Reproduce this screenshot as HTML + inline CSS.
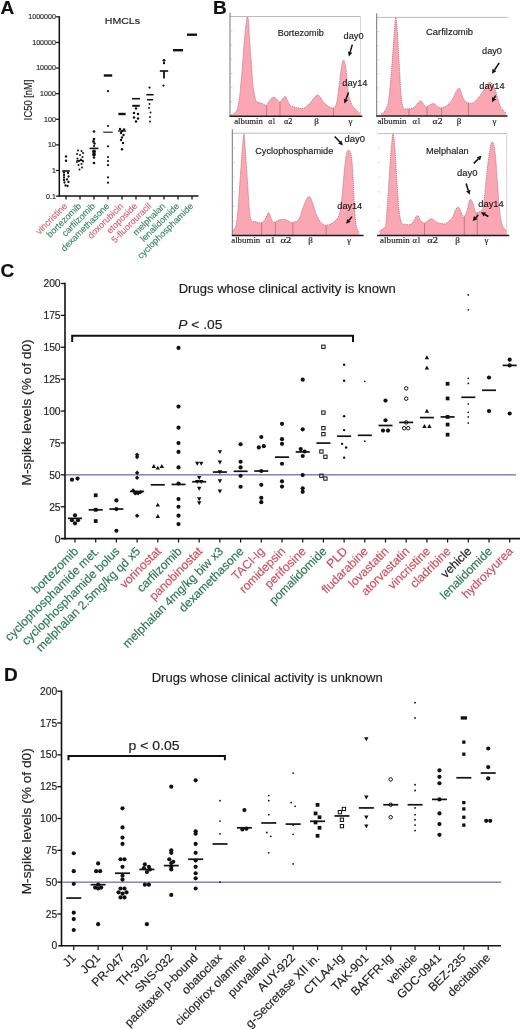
<!DOCTYPE html>
<html><head><meta charset="utf-8"><style>
html,body{margin:0;padding:0;background:#fff;}
svg{display:block;will-change:transform;}
text{font-family:"Liberation Sans", sans-serif;}
text.sf{font-family:'Liberation Serif',serif;}
</style></head><body>
<svg width="520" height="1029" viewBox="0 0 520 1029" font-family='"Liberation Sans", sans-serif'>
<rect width="520" height="1029" fill="#fff"/>
<text x="0.6" y="13.9" font-size="19" font-weight="bold" fill="#111" stroke="#111" stroke-width="0.16">A</text>
<text x="213.1" y="13.9" font-size="19" font-weight="bold" fill="#111" stroke="#111" stroke-width="0.16">B</text>
<text x="0.6" y="277.2" font-size="19" font-weight="bold" fill="#111" stroke="#111" stroke-width="0.16">C</text>
<text x="4.1" y="681.0" font-size="19" font-weight="bold" fill="#111" stroke="#111" stroke-width="0.16">D</text>
<line x1="59.3" y1="16.2" x2="59.3" y2="196.8" stroke="#111" stroke-width="1.5"/>
<line x1="58.599999999999994" y1="196.1" x2="198.5" y2="196.1" stroke="#111" stroke-width="1.5"/>
<line x1="55.8" y1="196.10" x2="59.3" y2="196.10" stroke="#111" stroke-width="1.2"/>
<text x="55.9" y="198.50" font-size="7.1" text-anchor="end" fill="#2a2a2a" stroke="#2a2a2a" stroke-width="0.16">0.1</text>
<line x1="55.8" y1="170.49" x2="59.3" y2="170.49" stroke="#111" stroke-width="1.2"/>
<text x="55.9" y="172.89" font-size="7.1" text-anchor="end" fill="#2a2a2a" stroke="#2a2a2a" stroke-width="0.16">1</text>
<line x1="55.8" y1="144.88" x2="59.3" y2="144.88" stroke="#111" stroke-width="1.2"/>
<text x="55.9" y="147.28" font-size="7.1" text-anchor="end" fill="#2a2a2a" stroke="#2a2a2a" stroke-width="0.16">10</text>
<line x1="55.8" y1="119.27" x2="59.3" y2="119.27" stroke="#111" stroke-width="1.2"/>
<text x="55.9" y="121.67" font-size="7.1" text-anchor="end" fill="#2a2a2a" stroke="#2a2a2a" stroke-width="0.16">100</text>
<line x1="55.8" y1="93.66" x2="59.3" y2="93.66" stroke="#111" stroke-width="1.2"/>
<text x="55.9" y="96.06" font-size="7.1" text-anchor="end" fill="#2a2a2a" stroke="#2a2a2a" stroke-width="0.16">1000</text>
<line x1="55.8" y1="68.05" x2="59.3" y2="68.05" stroke="#111" stroke-width="1.2"/>
<text x="55.9" y="70.45" font-size="7.1" text-anchor="end" fill="#2a2a2a" stroke="#2a2a2a" stroke-width="0.16">10000</text>
<line x1="55.8" y1="42.44" x2="59.3" y2="42.44" stroke="#111" stroke-width="1.2"/>
<text x="55.9" y="44.84" font-size="7.1" text-anchor="end" fill="#2a2a2a" stroke="#2a2a2a" stroke-width="0.16">100000</text>
<line x1="55.8" y1="16.83" x2="59.3" y2="16.83" stroke="#111" stroke-width="1.2"/>
<text x="55.9" y="19.23" font-size="7.1" text-anchor="end" fill="#2a2a2a" stroke="#2a2a2a" stroke-width="0.16">1000000</text>
<text transform="translate(32.1,99.9) rotate(-90)" font-size="10.3" text-anchor="middle" textLength="40.5" lengthAdjust="spacingAndGlyphs" fill="#222" stroke="#222" stroke-width="0.16">IC50 [nM]</text>
<text x="104.8" y="23.7" font-size="8.9" textLength="35.2" lengthAdjust="spacingAndGlyphs" fill="#222" stroke="#222" stroke-width="0.16">HMCLs</text>
<line x1="66" y1="196.1" x2="66" y2="199.6" stroke="#111" stroke-width="1.3"/>
<text transform="translate(67.8,206.6) rotate(-45)" font-size="9" text-anchor="end" fill="#dc6470" stroke="#dc6470" stroke-width="0.16">vincristine</text>
<line x1="80" y1="196.1" x2="80" y2="199.6" stroke="#111" stroke-width="1.3"/>
<text transform="translate(81.8,206.6) rotate(-45)" font-size="9" text-anchor="end" fill="#3c8864" stroke="#3c8864" stroke-width="0.16">bortezomib</text>
<line x1="94" y1="196.1" x2="94" y2="199.6" stroke="#111" stroke-width="1.3"/>
<text transform="translate(95.8,206.6) rotate(-45)" font-size="9" text-anchor="end" fill="#3c8864" stroke="#3c8864" stroke-width="0.16">carfilzomib</text>
<line x1="108" y1="196.1" x2="108" y2="199.6" stroke="#111" stroke-width="1.3"/>
<text transform="translate(109.8,206.6) rotate(-45)" font-size="9" text-anchor="end" fill="#3c8864" stroke="#3c8864" stroke-width="0.16">dexamethasone</text>
<line x1="122" y1="196.1" x2="122" y2="199.6" stroke="#111" stroke-width="1.3"/>
<text transform="translate(123.8,206.6) rotate(-45)" font-size="9" text-anchor="end" fill="#dc6470" stroke="#dc6470" stroke-width="0.16">doxorubicin</text>
<line x1="136" y1="196.1" x2="136" y2="199.6" stroke="#111" stroke-width="1.3"/>
<text transform="translate(137.8,206.6) rotate(-45)" font-size="9" text-anchor="end" fill="#dc6470" stroke="#dc6470" stroke-width="0.16">etoposide</text>
<line x1="150" y1="196.1" x2="150" y2="199.6" stroke="#111" stroke-width="1.3"/>
<text transform="translate(151.8,206.6) rotate(-45)" font-size="9" text-anchor="end" fill="#dc6470" stroke="#dc6470" stroke-width="0.16">5-fluorouracil</text>
<line x1="164" y1="196.1" x2="164" y2="199.6" stroke="#111" stroke-width="1.3"/>
<text transform="translate(165.8,206.6) rotate(-45)" font-size="9" text-anchor="end" fill="#3c8864" stroke="#3c8864" stroke-width="0.16">melphalan</text>
<line x1="178" y1="196.1" x2="178" y2="199.6" stroke="#111" stroke-width="1.3"/>
<text transform="translate(179.8,206.6) rotate(-45)" font-size="9" text-anchor="end" fill="#3c8864" stroke="#3c8864" stroke-width="0.16">lenalidomide</text>
<line x1="192" y1="196.1" x2="192" y2="199.6" stroke="#111" stroke-width="1.3"/>
<text transform="translate(193.8,206.6) rotate(-45)" font-size="9" text-anchor="end" fill="#3c8864" stroke="#3c8864" stroke-width="0.16">cyclophosphamide</text>
<circle cx="66.00" cy="156.40" r="1.2" fill="#111"/>
<circle cx="66.00" cy="160.80" r="1.2" fill="#111"/>
<circle cx="64.00" cy="172.50" r="1.15" fill="#111"/>
<circle cx="64.00" cy="175.00" r="1.15" fill="#111"/>
<circle cx="64.00" cy="177.50" r="1.15" fill="#111"/>
<circle cx="64.00" cy="180.00" r="1.15" fill="#111"/>
<circle cx="64.50" cy="182.50" r="1.15" fill="#111"/>
<circle cx="68.00" cy="173.00" r="1.15" fill="#111"/>
<circle cx="68.50" cy="176.50" r="1.15" fill="#111"/>
<circle cx="67.00" cy="179.50" r="1.15" fill="#111"/>
<circle cx="68.50" cy="182.00" r="1.15" fill="#111"/>
<circle cx="65.50" cy="185.50" r="1.15" fill="#111"/>
<circle cx="67.50" cy="186.00" r="1.15" fill="#111"/>
<line x1="62.20" y1="171.00" x2="69.80" y2="171.00" stroke="#111" stroke-width="1.6"/>
<circle cx="78.00" cy="150.50" r="1.0" fill="#111"/>
<circle cx="81.50" cy="151.00" r="1.0" fill="#111"/>
<circle cx="83.00" cy="153.00" r="1.0" fill="#111"/>
<circle cx="77.00" cy="154.00" r="1.0" fill="#111"/>
<circle cx="80.00" cy="155.00" r="1.0" fill="#111"/>
<circle cx="82.50" cy="157.00" r="1.0" fill="#111"/>
<circle cx="77.50" cy="158.50" r="1.0" fill="#111"/>
<circle cx="81.00" cy="159.50" r="1.0" fill="#111"/>
<circle cx="79.00" cy="161.00" r="1.0" fill="#111"/>
<circle cx="83.00" cy="161.50" r="1.0" fill="#111"/>
<circle cx="77.00" cy="162.00" r="1.0" fill="#111"/>
<circle cx="81.50" cy="164.00" r="1.0" fill="#111"/>
<circle cx="78.50" cy="165.00" r="1.0" fill="#111"/>
<circle cx="82.00" cy="167.50" r="1.0" fill="#111"/>
<circle cx="79.50" cy="169.50" r="1.0" fill="#111"/>
<line x1="76.50" y1="160.50" x2="83.50" y2="160.50" stroke="#111" stroke-width="1.3"/>
<circle cx="94.00" cy="131.50" r="1.3" fill="#111"/>
<circle cx="94.00" cy="139.00" r="1.3" fill="#111"/>
<circle cx="93.50" cy="141.50" r="1.4" fill="#111"/>
<circle cx="94.50" cy="143.50" r="1.2" fill="#111"/>
<circle cx="94.00" cy="146.00" r="1.1" fill="#111"/>
<circle cx="94.00" cy="151.50" r="1.9" fill="#111"/>
<circle cx="94.00" cy="154.50" r="1.9" fill="#111"/>
<circle cx="94.00" cy="157.50" r="1.2" fill="#111"/>
<circle cx="94.00" cy="163.00" r="1.3" fill="#111"/>
<line x1="89.60" y1="148.40" x2="98.40" y2="148.40" stroke="#111" stroke-width="1.6"/>
<line x1="103.80" y1="75.50" x2="112.20" y2="75.50" stroke="#111" stroke-width="2.4"/>
<circle cx="108.00" cy="91.20" r="1.1" fill="#111"/>
<circle cx="108.00" cy="126.00" r="1.1" fill="#111"/>
<circle cx="108.00" cy="146.30" r="1.1" fill="#111"/>
<circle cx="108.00" cy="157.00" r="1.1" fill="#111"/>
<circle cx="108.00" cy="161.00" r="1.1" fill="#111"/>
<circle cx="108.00" cy="165.20" r="1.1" fill="#111"/>
<circle cx="108.00" cy="177.30" r="1.1" fill="#111"/>
<circle cx="108.00" cy="182.70" r="1.1" fill="#111"/>
<line x1="103.20" y1="132.20" x2="112.80" y2="132.20" stroke="#111" stroke-width="1.1"/>
<line x1="118.40" y1="114.00" x2="125.60" y2="114.00" stroke="#111" stroke-width="2.4"/>
<circle cx="120.00" cy="129.00" r="1.2" fill="#111"/>
<circle cx="124.00" cy="129.50" r="1.2" fill="#111"/>
<circle cx="122.00" cy="131.00" r="1.2" fill="#111"/>
<circle cx="121.00" cy="133.00" r="1.2" fill="#111"/>
<circle cx="123.50" cy="135.00" r="1.2" fill="#111"/>
<circle cx="122.00" cy="137.50" r="1.2" fill="#111"/>
<circle cx="121.00" cy="140.00" r="1.2" fill="#111"/>
<circle cx="123.00" cy="143.00" r="1.2" fill="#111"/>
<circle cx="122.00" cy="149.20" r="1.2" fill="#111"/>
<line x1="118.00" y1="131.00" x2="126.00" y2="131.00" stroke="#111" stroke-width="1.3"/>
<line x1="132.00" y1="98.70" x2="140.00" y2="98.70" stroke="#111" stroke-width="1.5"/>
<line x1="132.20" y1="105.80" x2="139.80" y2="105.80" stroke="#111" stroke-width="2.0"/>
<circle cx="136.00" cy="108.50" r="1.25" fill="#111"/>
<circle cx="134.00" cy="113.00" r="1.25" fill="#111"/>
<circle cx="138.00" cy="114.00" r="1.25" fill="#111"/>
<circle cx="134.00" cy="117.50" r="1.25" fill="#111"/>
<circle cx="138.00" cy="118.50" r="1.25" fill="#111"/>
<circle cx="136.00" cy="121.50" r="1.25" fill="#111"/>
<circle cx="149.50" cy="87.60" r="1.1" fill="#111"/>
<line x1="146.40" y1="94.70" x2="153.60" y2="94.70" stroke="#111" stroke-width="1.6"/>
<line x1="147.00" y1="99.70" x2="153.00" y2="99.70" stroke="#111" stroke-width="1.5"/>
<circle cx="149.50" cy="104.00" r="0.95" fill="#111"/>
<circle cx="149.00" cy="108.00" r="0.95" fill="#111"/>
<circle cx="150.50" cy="112.50" r="0.95" fill="#111"/>
<circle cx="150.00" cy="117.00" r="0.95" fill="#111"/>
<circle cx="150.00" cy="121.50" r="0.95" fill="#111"/>
<circle cx="164.00" cy="60.30" r="1.4" fill="#111"/>
<circle cx="164.00" cy="63.00" r="1.2" fill="#111"/>
<line x1="159.80" y1="71.00" x2="168.20" y2="71.00" stroke="#111" stroke-width="1.6"/>
<line x1="164" y1="71" x2="164" y2="78.5" stroke="#111" stroke-width="1.8"/>
<circle cx="163.50" cy="85.60" r="1.1" fill="#111"/>
<line x1="173.00" y1="50.20" x2="183.00" y2="50.20" stroke="#111" stroke-width="2.4"/>
<line x1="187.00" y1="34.70" x2="197.00" y2="34.70" stroke="#111" stroke-width="2.4"/>
<line x1="230" y1="16.5" x2="360.6" y2="16.5" stroke="#aaa" stroke-width="0.8"/>
<line x1="360.6" y1="16.5" x2="360.6" y2="116.2" stroke="#c8c8c8" stroke-width="0.8"/>
<path d="M231.00,115.00 C231.33,114.87 232.25,114.70 233.00,114.20 C233.75,113.70 234.77,112.83 235.50,112.00 C236.23,111.17 236.75,111.45 237.40,109.20 C238.05,106.95 238.83,102.53 239.40,98.50 C239.97,94.47 240.32,90.13 240.80,85.00 C241.28,79.87 241.68,75.38 242.30,67.70 C242.92,60.02 243.83,46.52 244.50,38.90 C245.17,31.28 245.82,25.68 246.30,22.00 C246.78,18.32 247.02,16.80 247.40,16.80 C247.78,16.80 248.25,18.32 248.60,22.00 C248.95,25.68 248.98,31.28 249.50,38.90 C250.02,46.52 251.13,60.02 251.70,67.70 C252.27,75.38 252.25,79.65 252.90,85.00 C253.55,90.35 254.93,97.00 255.60,99.80 C256.27,102.60 255.83,101.18 256.90,101.80 C257.97,102.42 260.42,102.93 262.00,103.50 C263.58,104.07 265.07,105.78 266.40,105.20 C267.73,104.62 268.77,101.35 270.00,100.00 C271.23,98.65 272.63,97.18 273.80,97.10 C274.97,97.02 276.00,98.65 277.00,99.50 C278.00,100.35 278.88,102.28 279.80,102.20 C280.72,102.12 281.60,99.97 282.50,99.00 C283.40,98.03 284.37,96.15 285.20,96.40 C286.03,96.65 286.72,99.03 287.50,100.50 C288.28,101.97 288.82,104.12 289.90,105.20 C290.98,106.28 292.65,106.55 294.00,107.00 C295.35,107.45 296.48,107.65 298.00,107.90 C299.52,108.15 301.60,108.82 303.10,108.50 C304.60,108.18 305.65,107.12 307.00,106.00 C308.35,104.88 309.95,103.27 311.20,101.80 C312.45,100.33 313.38,98.32 314.50,97.20 C315.62,96.08 316.90,95.05 317.90,95.10 C318.90,95.15 319.60,96.38 320.50,97.50 C321.40,98.62 321.95,100.30 323.30,101.80 C324.65,103.30 326.92,105.48 328.60,106.50 C330.28,107.52 332.05,108.57 333.40,107.90 C334.75,107.23 335.70,106.55 336.70,102.50 C337.70,98.45 338.62,89.43 339.40,83.60 C340.18,77.77 340.68,71.42 341.40,67.50 C342.12,63.58 342.92,59.65 343.70,60.10 C344.48,60.55 345.47,65.83 346.10,70.20 C346.73,74.57 346.93,81.58 347.50,86.30 C348.07,91.02 348.60,95.13 349.50,98.50 C350.40,101.87 351.43,104.27 352.90,106.50 C354.37,108.73 357.07,110.77 358.30,111.90 C359.53,113.03 359.97,113.07 360.30,113.30 L360.30,115.7 L231.00,115.7 Z" fill="#faa6b3"/>
<path d="M231.00,115.00 C231.33,114.87 232.25,114.70 233.00,114.20 C233.75,113.70 234.77,112.83 235.50,112.00 C236.23,111.17 236.75,111.45 237.40,109.20 C238.05,106.95 238.83,102.53 239.40,98.50 C239.97,94.47 240.32,90.13 240.80,85.00 C241.28,79.87 241.68,75.38 242.30,67.70 C242.92,60.02 243.83,46.52 244.50,38.90 C245.17,31.28 245.82,25.68 246.30,22.00 C246.78,18.32 247.02,16.80 247.40,16.80 C247.78,16.80 248.25,18.32 248.60,22.00 C248.95,25.68 248.98,31.28 249.50,38.90 C250.02,46.52 251.13,60.02 251.70,67.70 C252.27,75.38 252.25,79.65 252.90,85.00 C253.55,90.35 254.93,97.00 255.60,99.80 C256.27,102.60 255.83,101.18 256.90,101.80 C257.97,102.42 260.42,102.93 262.00,103.50 C263.58,104.07 265.07,105.78 266.40,105.20 C267.73,104.62 268.77,101.35 270.00,100.00 C271.23,98.65 272.63,97.18 273.80,97.10 C274.97,97.02 276.00,98.65 277.00,99.50 C278.00,100.35 278.88,102.28 279.80,102.20 C280.72,102.12 281.60,99.97 282.50,99.00 C283.40,98.03 284.37,96.15 285.20,96.40 C286.03,96.65 286.72,99.03 287.50,100.50 C288.28,101.97 288.82,104.12 289.90,105.20 C290.98,106.28 292.65,106.55 294.00,107.00 C295.35,107.45 296.48,107.65 298.00,107.90 C299.52,108.15 301.60,108.82 303.10,108.50 C304.60,108.18 305.65,107.12 307.00,106.00 C308.35,104.88 309.95,103.27 311.20,101.80 C312.45,100.33 313.38,98.32 314.50,97.20 C315.62,96.08 316.90,95.05 317.90,95.10 C318.90,95.15 319.60,96.38 320.50,97.50 C321.40,98.62 321.95,100.30 323.30,101.80 C324.65,103.30 326.92,105.48 328.60,106.50 C330.28,107.52 332.05,108.57 333.40,107.90 C334.75,107.23 335.70,106.55 336.70,102.50 C337.70,98.45 338.62,89.43 339.40,83.60 C340.18,77.77 340.68,71.42 341.40,67.50 C342.12,63.58 342.92,59.65 343.70,60.10 C344.48,60.55 345.47,65.83 346.10,70.20 C346.73,74.57 346.93,81.58 347.50,86.30 C348.07,91.02 348.60,95.13 349.50,98.50 C350.40,101.87 351.43,104.27 352.90,106.50 C354.37,108.73 357.07,110.77 358.30,111.90 C359.53,113.03 359.97,113.07 360.30,113.30 " fill="none" stroke="#c07480" stroke-width="0.9" stroke-dasharray="1.2 0.8"/>
<line x1="266.6" y1="105.4" x2="266.6" y2="116.2" stroke="#9a5a62" stroke-width="0.6"/>
<line x1="280" y1="102.5" x2="280" y2="116.2" stroke="#9a5a62" stroke-width="0.6"/>
<line x1="333.4" y1="108.4" x2="333.4" y2="116.2" stroke="#9a5a62" stroke-width="0.6"/>
<line x1="230" y1="12.5" x2="230" y2="116.2" stroke="#666" stroke-width="0.9"/>
<line x1="231" y1="102.0" x2="232.5" y2="102.0" stroke="#c0c0c0" stroke-width="0.7"/>
<line x1="231" y1="87.7" x2="232.5" y2="87.7" stroke="#c0c0c0" stroke-width="0.7"/>
<line x1="231" y1="73.5" x2="232.5" y2="73.5" stroke="#c0c0c0" stroke-width="0.7"/>
<line x1="231" y1="59.2" x2="232.5" y2="59.2" stroke="#c0c0c0" stroke-width="0.7"/>
<line x1="231" y1="45.0" x2="232.5" y2="45.0" stroke="#c0c0c0" stroke-width="0.7"/>
<line x1="231" y1="30.7" x2="232.5" y2="30.7" stroke="#c0c0c0" stroke-width="0.7"/>
<line x1="229.5" y1="116.2" x2="362.3" y2="116.2" stroke="#1a1a1a" stroke-width="1.5"/>
<text class="sf" x="234.2" y="124.3" font-size="9" textLength="28.7" lengthAdjust="spacingAndGlyphs" fill="#222" stroke="#222" stroke-width="0.16">albumin</text>
<text class="sf" x="268.2" y="124.3" font-size="9" textLength="7.6" lengthAdjust="spacingAndGlyphs" fill="#222" stroke="#222" stroke-width="0.16">α1</text>
<text class="sf" x="284.1" y="124.3" font-size="9" textLength="8.3" lengthAdjust="spacingAndGlyphs" fill="#222" stroke="#222" stroke-width="0.16">α2</text>
<text class="sf" x="316.5" y="124.3" font-size="9" text-anchor="middle" fill="#222" stroke="#222" stroke-width="0.16">β</text>
<text class="sf" x="350.5" y="124.3" font-size="9" text-anchor="middle" fill="#222" stroke="#222" stroke-width="0.16">γ</text>
<text x="277.7" y="35.5" font-size="9.3" textLength="46.1" lengthAdjust="spacingAndGlyphs" fill="#1a1a1a" stroke="#1a1a1a" stroke-width="0.16">Bortezomib</text>
<text x="343.6" y="39.3" font-size="9.3" textLength="20.0" lengthAdjust="spacingAndGlyphs" fill="#1a1a1a" stroke="#1a1a1a" stroke-width="0.16">day0</text>
<line x1="352.3" y1="44.6" x2="350.1" y2="52.2" stroke="#111" stroke-width="1.5"/>
<path d="M348.9,56.5 L347.9,51.5 L352.3,52.8 Z" fill="#111"/>
<text x="342.3" y="86.0" font-size="9.3" textLength="25.2" lengthAdjust="spacingAndGlyphs" fill="#1a1a1a" stroke="#1a1a1a" stroke-width="0.16">day14</text>
<line x1="348.5" y1="92.5" x2="346.0" y2="99.3" stroke="#111" stroke-width="1.5"/>
<path d="M344.4,103.5 L343.8,98.5 L348.1,100.1 Z" fill="#111"/>
<line x1="376.7" y1="17.4" x2="508" y2="17.4" stroke="#aaa" stroke-width="0.8"/>
<path d="M381.00,113.60 C381.40,113.50 382.57,113.77 383.40,113.00 C384.23,112.23 385.20,110.68 386.00,109.00 C386.80,107.32 387.53,106.40 388.20,102.90 C388.87,99.40 389.45,93.38 390.00,88.00 C390.55,82.62 390.92,78.00 391.50,70.60 C392.08,63.20 392.95,51.20 393.50,43.60 C394.05,36.00 394.42,29.33 394.80,25.00 C395.18,20.67 395.47,17.60 395.80,17.60 C396.13,17.60 396.50,21.78 396.80,25.00 C397.10,28.22 397.13,29.30 397.60,36.90 C398.07,44.50 399.05,61.18 399.60,70.60 C400.15,80.02 400.33,87.35 400.90,93.40 C401.47,99.45 401.98,104.32 403.00,106.90 C404.02,109.48 405.22,108.78 407.00,108.90 C408.78,109.02 412.03,108.42 413.70,107.60 C415.37,106.78 415.87,105.13 417.00,104.00 C418.13,102.87 419.50,100.88 420.50,100.80 C421.50,100.72 422.12,102.48 423.00,103.50 C423.88,104.52 424.72,106.65 425.80,106.90 C426.88,107.15 428.27,105.57 429.50,105.00 C430.73,104.43 432.03,103.42 433.20,103.50 C434.37,103.58 435.48,104.82 436.50,105.50 C437.52,106.18 438.33,107.25 439.30,107.60 C440.27,107.95 441.02,107.95 442.30,107.60 C443.58,107.25 445.35,106.80 447.00,105.50 C448.65,104.20 450.70,102.05 452.20,99.80 C453.70,97.55 454.77,93.90 456.00,92.00 C457.23,90.10 458.45,87.45 459.60,88.40 C460.75,89.35 461.77,95.45 462.90,97.70 C464.03,99.95 464.87,100.97 466.40,101.90 C467.93,102.83 470.20,103.88 472.10,103.30 C474.00,102.72 476.13,100.17 477.80,98.40 C479.47,96.63 480.67,94.72 482.10,92.70 C483.53,90.68 485.10,88.08 486.40,86.30 C487.70,84.52 488.60,81.77 489.90,82.00 C491.20,82.23 492.90,84.97 494.20,87.70 C495.50,90.43 496.63,95.20 497.70,98.40 C498.77,101.60 499.53,104.77 500.60,106.90 C501.67,109.03 503.20,110.15 504.10,111.20 C505.00,112.25 505.68,112.87 506.00,113.20 L506.00,115.6 L381.00,115.6 Z" fill="#faa6b3"/>
<path d="M381.00,113.60 C381.40,113.50 382.57,113.77 383.40,113.00 C384.23,112.23 385.20,110.68 386.00,109.00 C386.80,107.32 387.53,106.40 388.20,102.90 C388.87,99.40 389.45,93.38 390.00,88.00 C390.55,82.62 390.92,78.00 391.50,70.60 C392.08,63.20 392.95,51.20 393.50,43.60 C394.05,36.00 394.42,29.33 394.80,25.00 C395.18,20.67 395.47,17.60 395.80,17.60 C396.13,17.60 396.50,21.78 396.80,25.00 C397.10,28.22 397.13,29.30 397.60,36.90 C398.07,44.50 399.05,61.18 399.60,70.60 C400.15,80.02 400.33,87.35 400.90,93.40 C401.47,99.45 401.98,104.32 403.00,106.90 C404.02,109.48 405.22,108.78 407.00,108.90 C408.78,109.02 412.03,108.42 413.70,107.60 C415.37,106.78 415.87,105.13 417.00,104.00 C418.13,102.87 419.50,100.88 420.50,100.80 C421.50,100.72 422.12,102.48 423.00,103.50 C423.88,104.52 424.72,106.65 425.80,106.90 C426.88,107.15 428.27,105.57 429.50,105.00 C430.73,104.43 432.03,103.42 433.20,103.50 C434.37,103.58 435.48,104.82 436.50,105.50 C437.52,106.18 438.33,107.25 439.30,107.60 C440.27,107.95 441.02,107.95 442.30,107.60 C443.58,107.25 445.35,106.80 447.00,105.50 C448.65,104.20 450.70,102.05 452.20,99.80 C453.70,97.55 454.77,93.90 456.00,92.00 C457.23,90.10 458.45,87.45 459.60,88.40 C460.75,89.35 461.77,95.45 462.90,97.70 C464.03,99.95 464.87,100.97 466.40,101.90 C467.93,102.83 470.20,103.88 472.10,103.30 C474.00,102.72 476.13,100.17 477.80,98.40 C479.47,96.63 480.67,94.72 482.10,92.70 C483.53,90.68 485.10,88.08 486.40,86.30 C487.70,84.52 488.60,81.77 489.90,82.00 C491.20,82.23 492.90,84.97 494.20,87.70 C495.50,90.43 496.63,95.20 497.70,98.40 C498.77,101.60 499.53,104.77 500.60,106.90 C501.67,109.03 503.20,110.15 504.10,111.20 C505.00,112.25 505.68,112.87 506.00,113.20 " fill="none" stroke="#c07480" stroke-width="0.9" stroke-dasharray="1.2 0.8"/>
<line x1="409" y1="109.0" x2="409" y2="116.1" stroke="#9a5a62" stroke-width="0.6"/>
<line x1="427" y1="106.8" x2="427" y2="116.1" stroke="#9a5a62" stroke-width="0.6"/>
<line x1="441.6" y1="108.1" x2="441.6" y2="116.1" stroke="#9a5a62" stroke-width="0.6"/>
<line x1="468.5" y1="102.9" x2="468.5" y2="116.1" stroke="#9a5a62" stroke-width="0.6"/>
<line x1="376.7" y1="13.399999999999999" x2="376.7" y2="116.1" stroke="#666" stroke-width="0.9"/>
<line x1="377.7" y1="102.0" x2="379.2" y2="102.0" stroke="#c0c0c0" stroke-width="0.7"/>
<line x1="377.7" y1="87.9" x2="379.2" y2="87.9" stroke="#c0c0c0" stroke-width="0.7"/>
<line x1="377.7" y1="73.8" x2="379.2" y2="73.8" stroke="#c0c0c0" stroke-width="0.7"/>
<line x1="377.7" y1="59.7" x2="379.2" y2="59.7" stroke="#c0c0c0" stroke-width="0.7"/>
<line x1="377.7" y1="45.6" x2="379.2" y2="45.6" stroke="#c0c0c0" stroke-width="0.7"/>
<line x1="377.7" y1="31.5" x2="379.2" y2="31.5" stroke="#c0c0c0" stroke-width="0.7"/>
<line x1="376.2" y1="116.1" x2="507.5" y2="116.1" stroke="#1a1a1a" stroke-width="1.5"/>
<text class="sf" x="377.4" y="124.1" font-size="9" textLength="29.1" lengthAdjust="spacingAndGlyphs" fill="#222" stroke="#222" stroke-width="0.16">albumin</text>
<text class="sf" x="412.4" y="124.1" font-size="9" textLength="8.6" lengthAdjust="spacingAndGlyphs" fill="#222" stroke="#222" stroke-width="0.16">α1</text>
<text class="sf" x="432.6" y="124.1" font-size="9" textLength="9.9" lengthAdjust="spacingAndGlyphs" fill="#222" stroke="#222" stroke-width="0.16">α2</text>
<text class="sf" x="459" y="124.1" font-size="9" text-anchor="middle" fill="#222" stroke="#222" stroke-width="0.16">β</text>
<text class="sf" x="494.5" y="124.1" font-size="9" text-anchor="middle" fill="#222" stroke="#222" stroke-width="0.16">γ</text>
<text x="426" y="35.0" font-size="9.3" textLength="47.0" lengthAdjust="spacingAndGlyphs" fill="#1a1a1a" stroke="#1a1a1a" stroke-width="0.16">Carfilzomib</text>
<text x="482" y="53.6" font-size="9.3" textLength="20.0" lengthAdjust="spacingAndGlyphs" fill="#1a1a1a" stroke="#1a1a1a" stroke-width="0.16">day0</text>
<line x1="499.2" y1="62.8" x2="494.5" y2="70.0" stroke="#111" stroke-width="1.5"/>
<path d="M492.0,73.8 L492.5,68.8 L496.4,71.3 Z" fill="#111"/>
<text x="479.3" y="88.7" font-size="9.3" textLength="25.3" lengthAdjust="spacingAndGlyphs" fill="#1a1a1a" stroke="#1a1a1a" stroke-width="0.16">day14</text>
<line x1="495.6" y1="95.5" x2="494.1" y2="98.2" stroke="#111" stroke-width="1.5"/>
<path d="M492.0,102.2 L492.1,97.1 L496.2,99.3 Z" fill="#111"/>
<line x1="232.3" y1="133.2" x2="360" y2="133.2" stroke="#aaa" stroke-width="0.8"/>
<path d="M232.80,231.60 C233.08,231.08 233.95,229.62 234.50,228.50 C235.05,227.38 235.50,228.18 236.10,224.90 C236.70,221.62 237.43,216.43 238.10,208.80 C238.77,201.17 239.43,188.53 240.10,179.10 C240.77,169.67 241.60,158.72 242.10,152.20 C242.60,145.68 242.80,143.02 243.10,140.00 C243.40,136.98 243.63,134.10 243.90,134.10 C244.17,134.10 244.43,136.98 244.70,140.00 C244.97,143.02 245.03,145.23 245.50,152.20 C245.97,159.17 246.83,171.93 247.50,181.80 C248.17,191.67 248.82,204.88 249.50,211.40 C250.18,217.92 250.70,219.22 251.60,220.90 C252.50,222.58 253.33,221.17 254.90,221.50 C256.47,221.83 259.32,223.23 261.00,222.90 C262.68,222.57 263.73,221.18 265.00,219.50 C266.27,217.82 267.48,212.80 268.60,212.80 C269.72,212.80 270.73,217.93 271.70,219.50 C272.67,221.07 273.05,222.15 274.40,222.20 C275.75,222.25 277.88,220.20 279.80,219.80 C281.72,219.40 284.10,219.40 285.90,219.80 C287.70,220.20 289.43,221.77 290.60,222.20 C291.77,222.63 291.55,222.85 292.90,222.40 C294.25,221.95 297.02,221.92 298.70,219.50 C300.38,217.08 301.68,211.27 303.00,207.90 C304.32,204.53 305.52,201.17 306.60,199.30 C307.68,197.43 308.53,196.22 309.50,196.70 C310.47,197.18 311.32,199.37 312.40,202.20 C313.48,205.03 314.57,210.33 316.00,213.70 C317.43,217.07 319.32,220.48 321.00,222.40 C322.68,224.32 324.05,225.20 326.10,225.20 C328.15,225.20 331.13,224.08 333.30,222.40 C335.47,220.72 337.67,219.20 339.10,215.10 C340.53,211.00 341.07,204.77 341.90,197.80 C342.73,190.83 343.37,180.52 344.10,173.30 C344.83,166.08 345.50,158.35 346.30,154.50 C347.10,150.65 348.07,149.95 348.90,150.20 C349.73,150.45 350.65,152.15 351.30,156.00 C351.95,159.85 352.32,165.60 352.80,173.30 C353.28,181.00 353.72,194.02 354.20,202.20 C354.68,210.38 355.10,217.72 355.70,222.40 C356.30,227.08 357.20,228.75 357.80,230.30 C358.40,231.85 359.05,231.47 359.30,231.70 L359.30,235.1 L232.80,235.1 Z" fill="#faa6b3"/>
<path d="M232.80,231.60 C233.08,231.08 233.95,229.62 234.50,228.50 C235.05,227.38 235.50,228.18 236.10,224.90 C236.70,221.62 237.43,216.43 238.10,208.80 C238.77,201.17 239.43,188.53 240.10,179.10 C240.77,169.67 241.60,158.72 242.10,152.20 C242.60,145.68 242.80,143.02 243.10,140.00 C243.40,136.98 243.63,134.10 243.90,134.10 C244.17,134.10 244.43,136.98 244.70,140.00 C244.97,143.02 245.03,145.23 245.50,152.20 C245.97,159.17 246.83,171.93 247.50,181.80 C248.17,191.67 248.82,204.88 249.50,211.40 C250.18,217.92 250.70,219.22 251.60,220.90 C252.50,222.58 253.33,221.17 254.90,221.50 C256.47,221.83 259.32,223.23 261.00,222.90 C262.68,222.57 263.73,221.18 265.00,219.50 C266.27,217.82 267.48,212.80 268.60,212.80 C269.72,212.80 270.73,217.93 271.70,219.50 C272.67,221.07 273.05,222.15 274.40,222.20 C275.75,222.25 277.88,220.20 279.80,219.80 C281.72,219.40 284.10,219.40 285.90,219.80 C287.70,220.20 289.43,221.77 290.60,222.20 C291.77,222.63 291.55,222.85 292.90,222.40 C294.25,221.95 297.02,221.92 298.70,219.50 C300.38,217.08 301.68,211.27 303.00,207.90 C304.32,204.53 305.52,201.17 306.60,199.30 C307.68,197.43 308.53,196.22 309.50,196.70 C310.47,197.18 311.32,199.37 312.40,202.20 C313.48,205.03 314.57,210.33 316.00,213.70 C317.43,217.07 319.32,220.48 321.00,222.40 C322.68,224.32 324.05,225.20 326.10,225.20 C328.15,225.20 331.13,224.08 333.30,222.40 C335.47,220.72 337.67,219.20 339.10,215.10 C340.53,211.00 341.07,204.77 341.90,197.80 C342.73,190.83 343.37,180.52 344.10,173.30 C344.83,166.08 345.50,158.35 346.30,154.50 C347.10,150.65 348.07,149.95 348.90,150.20 C349.73,150.45 350.65,152.15 351.30,156.00 C351.95,159.85 352.32,165.60 352.80,173.30 C353.28,181.00 353.72,194.02 354.20,202.20 C354.68,210.38 355.10,217.72 355.70,222.40 C356.30,227.08 357.20,228.75 357.80,230.30 C358.40,231.85 359.05,231.47 359.30,231.70 " fill="none" stroke="#c07480" stroke-width="0.9" stroke-dasharray="1.2 0.8"/>
<line x1="261.6" y1="222.9" x2="261.6" y2="235.6" stroke="#9a5a62" stroke-width="0.6"/>
<line x1="275.4" y1="222.3" x2="275.4" y2="235.6" stroke="#9a5a62" stroke-width="0.6"/>
<line x1="292.9" y1="222.9" x2="292.9" y2="235.6" stroke="#9a5a62" stroke-width="0.6"/>
<line x1="326.1" y1="225.7" x2="326.1" y2="235.6" stroke="#9a5a62" stroke-width="0.6"/>
<line x1="232.3" y1="129.2" x2="232.3" y2="235.6" stroke="#666" stroke-width="0.9"/>
<line x1="233.3" y1="221.0" x2="234.8" y2="221.0" stroke="#c0c0c0" stroke-width="0.7"/>
<line x1="233.3" y1="206.3" x2="234.8" y2="206.3" stroke="#c0c0c0" stroke-width="0.7"/>
<line x1="233.3" y1="191.7" x2="234.8" y2="191.7" stroke="#c0c0c0" stroke-width="0.7"/>
<line x1="233.3" y1="177.1" x2="234.8" y2="177.1" stroke="#c0c0c0" stroke-width="0.7"/>
<line x1="233.3" y1="162.5" x2="234.8" y2="162.5" stroke="#c0c0c0" stroke-width="0.7"/>
<line x1="233.3" y1="147.8" x2="234.8" y2="147.8" stroke="#c0c0c0" stroke-width="0.7"/>
<line x1="231.8" y1="235.6" x2="363.6" y2="235.6" stroke="#1a1a1a" stroke-width="1.5"/>
<text class="sf" x="231.2" y="242.9" font-size="9" textLength="29.1" lengthAdjust="spacingAndGlyphs" fill="#222" stroke="#222" stroke-width="0.16">albumin</text>
<text class="sf" x="265.7" y="242.9" font-size="9" textLength="9.4" lengthAdjust="spacingAndGlyphs" fill="#222" stroke="#222" stroke-width="0.16">α1</text>
<text class="sf" x="280.5" y="242.9" font-size="9" textLength="10.8" lengthAdjust="spacingAndGlyphs" fill="#222" stroke="#222" stroke-width="0.16">α2</text>
<text class="sf" x="310.5" y="242.9" font-size="9" text-anchor="middle" fill="#222" stroke="#222" stroke-width="0.16">β</text>
<text class="sf" x="349" y="242.9" font-size="9" text-anchor="middle" fill="#222" stroke="#222" stroke-width="0.16">γ</text>
<text x="255.2" y="153.8" font-size="9.3" textLength="78.1" lengthAdjust="spacingAndGlyphs" fill="#1a1a1a" stroke="#1a1a1a" stroke-width="0.16">Cyclophosphamide</text>
<text x="344.5" y="141.5" font-size="9.3" textLength="20.5" lengthAdjust="spacingAndGlyphs" fill="#1a1a1a" stroke="#1a1a1a" stroke-width="0.16">day0</text>
<line x1="334.7" y1="136.5" x2="339.9" y2="142.1" stroke="#111" stroke-width="1.5"/>
<path d="M342.9,145.4 L338.2,143.6 L341.5,140.5 Z" fill="#111"/>
<text x="337.3" y="209.1" font-size="9.3" textLength="24.9" lengthAdjust="spacingAndGlyphs" fill="#1a1a1a" stroke="#1a1a1a" stroke-width="0.16">day14</text>
<line x1="352.0" y1="216.6" x2="349.0" y2="220.3" stroke="#111" stroke-width="1.5"/>
<path d="M346.1,223.8 L347.2,218.9 L350.7,221.8 Z" fill="#111"/>
<line x1="377.5" y1="133.6" x2="506.7" y2="133.6" stroke="#aaa" stroke-width="0.8"/>
<line x1="506.7" y1="133.6" x2="506.7" y2="235.6" stroke="#c8c8c8" stroke-width="0.8"/>
<path d="M379.40,231.00 C379.83,230.75 381.10,230.07 382.00,229.50 C382.90,228.93 384.12,228.82 384.80,227.60 C385.48,226.38 385.53,228.03 386.10,222.20 C386.67,216.37 387.52,202.70 388.20,192.60 C388.88,182.50 389.58,170.12 390.20,161.60 C390.82,153.08 391.42,146.12 391.90,141.50 C392.38,136.88 392.60,132.78 393.10,133.90 C393.60,135.02 394.27,140.22 394.90,148.20 C395.53,156.18 396.23,171.70 396.90,181.80 C397.57,191.90 398.23,202.28 398.90,208.80 C399.57,215.32 400.12,218.33 400.90,220.90 C401.68,223.47 401.92,223.65 403.60,224.20 C405.28,224.75 409.20,224.98 411.00,224.20 C412.80,223.42 413.32,220.95 414.40,219.50 C415.48,218.05 416.48,215.38 417.50,215.50 C418.52,215.62 419.33,218.97 420.50,220.20 C421.67,221.43 422.72,223.13 424.50,222.90 C426.28,222.67 429.18,218.92 431.20,218.80 C433.22,218.68 434.80,221.40 436.60,222.20 C438.40,223.00 440.55,223.33 442.00,223.60 C443.45,223.87 444.13,224.23 445.30,223.80 C446.47,223.37 447.78,222.10 449.00,221.00 C450.22,219.90 451.52,219.05 452.60,217.20 C453.68,215.35 454.57,211.60 455.50,209.90 C456.43,208.20 457.33,206.77 458.20,207.00 C459.07,207.23 459.80,209.60 460.70,211.30 C461.60,213.00 462.52,217.43 463.60,217.20 C464.68,216.97 466.23,212.58 467.20,209.90 C468.17,207.22 468.78,202.82 469.40,201.10 C470.02,199.38 470.28,199.12 470.90,199.60 C471.52,200.08 472.37,202.05 473.10,204.00 C473.83,205.95 474.70,209.83 475.30,211.30 C475.90,212.77 475.85,212.80 476.70,212.80 C477.55,212.80 479.30,212.27 480.40,211.30 C481.50,210.33 482.57,209.92 483.30,207.00 C484.03,204.08 484.18,199.65 484.80,193.80 C485.42,187.95 486.15,179.22 487.00,171.90 C487.85,164.58 489.00,154.90 489.90,149.90 C490.80,144.90 491.55,141.65 492.40,141.90 C493.25,142.15 494.20,145.18 495.00,151.40 C495.80,157.62 496.47,169.70 497.20,179.20 C497.93,188.70 498.67,201.10 499.40,208.40 C500.13,215.70 500.75,219.58 501.60,223.00 C502.45,226.42 503.68,227.68 504.50,228.90 C505.32,230.12 506.17,230.07 506.50,230.30 L506.50,235.1 L379.40,235.1 Z" fill="#faa6b3"/>
<path d="M379.40,231.00 C379.83,230.75 381.10,230.07 382.00,229.50 C382.90,228.93 384.12,228.82 384.80,227.60 C385.48,226.38 385.53,228.03 386.10,222.20 C386.67,216.37 387.52,202.70 388.20,192.60 C388.88,182.50 389.58,170.12 390.20,161.60 C390.82,153.08 391.42,146.12 391.90,141.50 C392.38,136.88 392.60,132.78 393.10,133.90 C393.60,135.02 394.27,140.22 394.90,148.20 C395.53,156.18 396.23,171.70 396.90,181.80 C397.57,191.90 398.23,202.28 398.90,208.80 C399.57,215.32 400.12,218.33 400.90,220.90 C401.68,223.47 401.92,223.65 403.60,224.20 C405.28,224.75 409.20,224.98 411.00,224.20 C412.80,223.42 413.32,220.95 414.40,219.50 C415.48,218.05 416.48,215.38 417.50,215.50 C418.52,215.62 419.33,218.97 420.50,220.20 C421.67,221.43 422.72,223.13 424.50,222.90 C426.28,222.67 429.18,218.92 431.20,218.80 C433.22,218.68 434.80,221.40 436.60,222.20 C438.40,223.00 440.55,223.33 442.00,223.60 C443.45,223.87 444.13,224.23 445.30,223.80 C446.47,223.37 447.78,222.10 449.00,221.00 C450.22,219.90 451.52,219.05 452.60,217.20 C453.68,215.35 454.57,211.60 455.50,209.90 C456.43,208.20 457.33,206.77 458.20,207.00 C459.07,207.23 459.80,209.60 460.70,211.30 C461.60,213.00 462.52,217.43 463.60,217.20 C464.68,216.97 466.23,212.58 467.20,209.90 C468.17,207.22 468.78,202.82 469.40,201.10 C470.02,199.38 470.28,199.12 470.90,199.60 C471.52,200.08 472.37,202.05 473.10,204.00 C473.83,205.95 474.70,209.83 475.30,211.30 C475.90,212.77 475.85,212.80 476.70,212.80 C477.55,212.80 479.30,212.27 480.40,211.30 C481.50,210.33 482.57,209.92 483.30,207.00 C484.03,204.08 484.18,199.65 484.80,193.80 C485.42,187.95 486.15,179.22 487.00,171.90 C487.85,164.58 489.00,154.90 489.90,149.90 C490.80,144.90 491.55,141.65 492.40,141.90 C493.25,142.15 494.20,145.18 495.00,151.40 C495.80,157.62 496.47,169.70 497.20,179.20 C497.93,188.70 498.67,201.10 499.40,208.40 C500.13,215.70 500.75,219.58 501.60,223.00 C502.45,226.42 503.68,227.68 504.50,228.90 C505.32,230.12 506.17,230.07 506.50,230.30 " fill="none" stroke="#c07480" stroke-width="0.9" stroke-dasharray="1.2 0.8"/>
<line x1="424.5" y1="223.4" x2="424.5" y2="235.6" stroke="#9a5a62" stroke-width="0.6"/>
<line x1="464.3" y1="216.3" x2="464.3" y2="235.6" stroke="#9a5a62" stroke-width="0.6"/>
<line x1="477.2" y1="213.1" x2="477.2" y2="235.6" stroke="#9a5a62" stroke-width="0.6"/>
<line x1="378.5" y1="221.0" x2="380.0" y2="221.0" stroke="#c0c0c0" stroke-width="0.7"/>
<line x1="378.5" y1="206.5" x2="380.0" y2="206.5" stroke="#c0c0c0" stroke-width="0.7"/>
<line x1="378.5" y1="191.9" x2="380.0" y2="191.9" stroke="#c0c0c0" stroke-width="0.7"/>
<line x1="378.5" y1="177.3" x2="380.0" y2="177.3" stroke="#c0c0c0" stroke-width="0.7"/>
<line x1="378.5" y1="162.7" x2="380.0" y2="162.7" stroke="#c0c0c0" stroke-width="0.7"/>
<line x1="378.5" y1="148.2" x2="380.0" y2="148.2" stroke="#c0c0c0" stroke-width="0.7"/>
<line x1="377.0" y1="235.6" x2="509.3" y2="235.6" stroke="#1a1a1a" stroke-width="1.5"/>
<text class="sf" x="380.1" y="242.9" font-size="9" textLength="29.6" lengthAdjust="spacingAndGlyphs" fill="#222" stroke="#222" stroke-width="0.16">albumin</text>
<text class="sf" x="412.4" y="242.9" font-size="9" textLength="8.6" lengthAdjust="spacingAndGlyphs" fill="#222" stroke="#222" stroke-width="0.16">α1</text>
<text class="sf" x="427.2" y="242.9" font-size="9" textLength="10.8" lengthAdjust="spacingAndGlyphs" fill="#222" stroke="#222" stroke-width="0.16">α2</text>
<text class="sf" x="457.6" y="242.9" font-size="9" text-anchor="middle" fill="#222" stroke="#222" stroke-width="0.16">β</text>
<text class="sf" x="486.4" y="242.9" font-size="9" text-anchor="middle" fill="#222" stroke="#222" stroke-width="0.16">γ</text>
<text x="426" y="154.0" font-size="9.3" textLength="42.7" lengthAdjust="spacingAndGlyphs" fill="#1a1a1a" stroke="#1a1a1a" stroke-width="0.16">Melphalan</text>
<line x1="473.8" y1="163.4" x2="478.4" y2="158.8" stroke="#111" stroke-width="1.5"/>
<path d="M481.6,155.6 L480.0,160.4 L476.8,157.2 Z" fill="#111"/>
<text x="457" y="176.2" font-size="9.3" textLength="20.5" lengthAdjust="spacingAndGlyphs" fill="#1a1a1a" stroke="#1a1a1a" stroke-width="0.16">day0</text>
<line x1="466.1" y1="183.6" x2="468.3" y2="190.5" stroke="#111" stroke-width="1.5"/>
<path d="M469.6,194.8 L466.1,191.2 L470.5,189.8 Z" fill="#111"/>
<text x="478.2" y="207.0" font-size="9.3" textLength="25.6" lengthAdjust="spacingAndGlyphs" fill="#1a1a1a" stroke="#1a1a1a" stroke-width="0.16">day14</text>
<line x1="478.2" y1="215.0" x2="475.7" y2="217.7" stroke="#111" stroke-width="1.5"/>
<path d="M472.6,221.0 L474.0,216.1 L477.4,219.3 Z" fill="#111"/>
<line x1="488.4" y1="216.5" x2="484.8" y2="214.5" stroke="#111" stroke-width="1.5"/>
<path d="M480.9,212.3 L486.0,212.5 L483.7,216.5 Z" fill="#111"/>
<line x1="65" y1="282.8" x2="65" y2="539.4" stroke="#111" stroke-width="1.6"/>
<line x1="60.7" y1="538.65" x2="520" y2="538.65" stroke="#111" stroke-width="1.6"/>
<text x="60.6" y="542.55" font-size="10.3" text-anchor="end" fill="#1e1e1e" stroke="#1e1e1e" stroke-width="0.16">0</text>
<line x1="60.8" y1="506.75" x2="65" y2="506.75" stroke="#111" stroke-width="1.3"/>
<text x="60.6" y="510.65" font-size="10.3" text-anchor="end" fill="#1e1e1e" stroke="#1e1e1e" stroke-width="0.16">25</text>
<line x1="60.8" y1="474.86" x2="65" y2="474.86" stroke="#111" stroke-width="1.3"/>
<text x="60.6" y="478.76" font-size="10.3" text-anchor="end" fill="#1e1e1e" stroke="#1e1e1e" stroke-width="0.16">50</text>
<line x1="60.8" y1="442.96" x2="65" y2="442.96" stroke="#111" stroke-width="1.3"/>
<text x="60.6" y="446.86" font-size="10.3" text-anchor="end" fill="#1e1e1e" stroke="#1e1e1e" stroke-width="0.16">75</text>
<line x1="60.8" y1="411.07" x2="65" y2="411.07" stroke="#111" stroke-width="1.3"/>
<text x="60.6" y="414.97" font-size="10.3" text-anchor="end" fill="#1e1e1e" stroke="#1e1e1e" stroke-width="0.16">100</text>
<line x1="60.8" y1="379.17" x2="65" y2="379.17" stroke="#111" stroke-width="1.3"/>
<text x="60.6" y="383.07" font-size="10.3" text-anchor="end" fill="#1e1e1e" stroke="#1e1e1e" stroke-width="0.16">125</text>
<line x1="60.8" y1="347.28" x2="65" y2="347.28" stroke="#111" stroke-width="1.3"/>
<text x="60.6" y="351.18" font-size="10.3" text-anchor="end" fill="#1e1e1e" stroke="#1e1e1e" stroke-width="0.16">150</text>
<line x1="60.8" y1="315.38" x2="65" y2="315.38" stroke="#111" stroke-width="1.3"/>
<text x="60.6" y="319.28" font-size="10.3" text-anchor="end" fill="#1e1e1e" stroke="#1e1e1e" stroke-width="0.16">175</text>
<line x1="60.8" y1="283.49" x2="65" y2="283.49" stroke="#111" stroke-width="1.3"/>
<text x="60.6" y="287.39" font-size="10.3" text-anchor="end" fill="#1e1e1e" stroke="#1e1e1e" stroke-width="0.16">200</text>
<line x1="65.8" y1="474.86" x2="516" y2="474.86" stroke="#38389a" stroke-width="0.95"/>
<text transform="translate(30.8,412.4) rotate(-90)" font-size="13" text-anchor="middle" textLength="146" lengthAdjust="spacingAndGlyphs" fill="#1e1e1e" stroke="#1e1e1e" stroke-width="0.16">M-spike levels (% of d0)</text>
<text x="178.7" y="293.3" font-size="12" textLength="217" lengthAdjust="spacingAndGlyphs" fill="#1e1e1e" stroke="#1e1e1e" stroke-width="0.16">Drugs whose clinical activity is known</text>
<text x="178.3" y="329.4" font-size="12.8" textLength="44.2" lengthAdjust="spacingAndGlyphs" fill="#1e1e1e" stroke="#1e1e1e" stroke-width="0.16"><tspan font-style="italic">P</tspan> &lt; .05</text>
<path d="M72.2,342 L72.2,335.8 L353,335.8 L353,342" fill="none" stroke="#111" stroke-width="2"/>
<line x1="75.00" y1="538.8" x2="75.00" y2="542.5" stroke="#111" stroke-width="1.2"/>
<text transform="translate(79.00,552) rotate(-45)" font-size="12.1" text-anchor="end" fill="#2a7850" stroke="#2a7850" stroke-width="0.16">bortezomib</text>
<line x1="95.70" y1="538.8" x2="95.70" y2="542.5" stroke="#111" stroke-width="1.2"/>
<text transform="translate(99.70,552) rotate(-45)" font-size="12.1" text-anchor="end" fill="#2a7850" stroke="#2a7850" stroke-width="0.16">cyclophosphamide met.</text>
<line x1="116.40" y1="538.8" x2="116.40" y2="542.5" stroke="#111" stroke-width="1.2"/>
<text transform="translate(120.40,552) rotate(-45)" font-size="12.1" text-anchor="end" fill="#2a7850" stroke="#2a7850" stroke-width="0.16">cyclophosphamide bolus</text>
<line x1="137.10" y1="538.8" x2="137.10" y2="542.5" stroke="#111" stroke-width="1.2"/>
<text transform="translate(141.10,552) rotate(-45)" font-size="12.1" text-anchor="end" fill="#2a7850" stroke="#2a7850" stroke-width="0.16">melphalan 2.5mg/kg qd x5</text>
<line x1="157.80" y1="538.8" x2="157.80" y2="542.5" stroke="#111" stroke-width="1.2"/>
<text transform="translate(161.80,552) rotate(-45)" font-size="12.1" text-anchor="end" fill="#d24e5a" stroke="#d24e5a" stroke-width="0.16">vorinostat</text>
<line x1="178.50" y1="538.8" x2="178.50" y2="542.5" stroke="#111" stroke-width="1.2"/>
<text transform="translate(182.50,552) rotate(-45)" font-size="12.1" text-anchor="end" fill="#2a7850" stroke="#2a7850" stroke-width="0.16">carfilzomib</text>
<line x1="199.20" y1="538.8" x2="199.20" y2="542.5" stroke="#111" stroke-width="1.2"/>
<text transform="translate(203.20,552) rotate(-45)" font-size="12.1" text-anchor="end" fill="#d24e5a" stroke="#d24e5a" stroke-width="0.16">panobinostat</text>
<line x1="219.90" y1="538.8" x2="219.90" y2="542.5" stroke="#111" stroke-width="1.2"/>
<text transform="translate(223.90,552) rotate(-45)" font-size="12.1" text-anchor="end" fill="#2a7850" stroke="#2a7850" stroke-width="0.16">melphalan 4mg/kg biw x3</text>
<line x1="240.60" y1="538.8" x2="240.60" y2="542.5" stroke="#111" stroke-width="1.2"/>
<text transform="translate(244.60,552) rotate(-45)" font-size="12.1" text-anchor="end" fill="#2a7850" stroke="#2a7850" stroke-width="0.16">dexamethasone</text>
<line x1="261.30" y1="538.8" x2="261.30" y2="542.5" stroke="#111" stroke-width="1.2"/>
<text transform="translate(265.30,552) rotate(-45)" font-size="12.1" text-anchor="end" fill="#d24e5a" stroke="#d24e5a" stroke-width="0.16">TACI-Ig</text>
<line x1="282.00" y1="538.8" x2="282.00" y2="542.5" stroke="#111" stroke-width="1.2"/>
<text transform="translate(286.00,552) rotate(-45)" font-size="12.1" text-anchor="end" fill="#d24e5a" stroke="#d24e5a" stroke-width="0.16">romidepsin</text>
<line x1="302.70" y1="538.8" x2="302.70" y2="542.5" stroke="#111" stroke-width="1.2"/>
<text transform="translate(306.70,552) rotate(-45)" font-size="12.1" text-anchor="end" fill="#d24e5a" stroke="#d24e5a" stroke-width="0.16">perifosine</text>
<line x1="323.40" y1="538.8" x2="323.40" y2="542.5" stroke="#111" stroke-width="1.2"/>
<text transform="translate(327.40,552) rotate(-45)" font-size="12.1" text-anchor="end" fill="#2a7850" stroke="#2a7850" stroke-width="0.16">pomalidomide</text>
<line x1="344.10" y1="538.8" x2="344.10" y2="542.5" stroke="#111" stroke-width="1.2"/>
<text transform="translate(348.10,552) rotate(-45)" font-size="12.1" text-anchor="end" fill="#d24e5a" stroke="#d24e5a" stroke-width="0.16">PLD</text>
<line x1="364.80" y1="538.8" x2="364.80" y2="542.5" stroke="#111" stroke-width="1.2"/>
<text transform="translate(368.80,552) rotate(-45)" font-size="12.1" text-anchor="end" fill="#d24e5a" stroke="#d24e5a" stroke-width="0.16">fludarabine</text>
<line x1="385.50" y1="538.8" x2="385.50" y2="542.5" stroke="#111" stroke-width="1.2"/>
<text transform="translate(389.50,552) rotate(-45)" font-size="12.1" text-anchor="end" fill="#d24e5a" stroke="#d24e5a" stroke-width="0.16">lovastatin</text>
<line x1="406.20" y1="538.8" x2="406.20" y2="542.5" stroke="#111" stroke-width="1.2"/>
<text transform="translate(410.20,552) rotate(-45)" font-size="12.1" text-anchor="end" fill="#d24e5a" stroke="#d24e5a" stroke-width="0.16">atorvastatin</text>
<line x1="426.90" y1="538.8" x2="426.90" y2="542.5" stroke="#111" stroke-width="1.2"/>
<text transform="translate(430.90,552) rotate(-45)" font-size="12.1" text-anchor="end" fill="#d24e5a" stroke="#d24e5a" stroke-width="0.16">vincristine</text>
<line x1="447.60" y1="538.8" x2="447.60" y2="542.5" stroke="#111" stroke-width="1.2"/>
<text transform="translate(451.60,552) rotate(-45)" font-size="12.1" text-anchor="end" fill="#d24e5a" stroke="#d24e5a" stroke-width="0.16">cladribine</text>
<line x1="468.30" y1="538.8" x2="468.30" y2="542.5" stroke="#111" stroke-width="1.2"/>
<text transform="translate(472.30,552) rotate(-45)" font-size="12.1" text-anchor="end" fill="#1a1a1a" stroke="#1a1a1a" stroke-width="0.16">vehicle</text>
<line x1="489.00" y1="538.8" x2="489.00" y2="542.5" stroke="#111" stroke-width="1.2"/>
<text transform="translate(493.00,552) rotate(-45)" font-size="12.1" text-anchor="end" fill="#2a7850" stroke="#2a7850" stroke-width="0.16">lenalidomide</text>
<line x1="509.70" y1="538.8" x2="509.70" y2="542.5" stroke="#111" stroke-width="1.2"/>
<text transform="translate(513.70,552) rotate(-45)" font-size="12.1" text-anchor="end" fill="#d24e5a" stroke="#d24e5a" stroke-width="0.16">hydroxyurea</text>
<circle cx="72.00" cy="479.71" r="2.09" fill="#111"/>
<circle cx="77.50" cy="478.56" r="2.09" fill="#111"/>
<circle cx="75.00" cy="515.30" r="2.09" fill="#111"/>
<circle cx="72.00" cy="520.28" r="2.09" fill="#111"/>
<circle cx="78.00" cy="520.28" r="2.09" fill="#111"/>
<circle cx="75.00" cy="523.34" r="2.09" fill="#111"/>
<line x1="68.00" y1="518.36" x2="82.00" y2="518.36" stroke="#111" stroke-width="1.7"/>
<rect x="93.83" y="493.40" width="3.74" height="3.74" fill="#111"/>
<rect x="93.83" y="507.95" width="3.74" height="3.74" fill="#111"/>
<rect x="93.83" y="519.17" width="3.74" height="3.74" fill="#111"/>
<line x1="88.70" y1="509.82" x2="102.70" y2="509.82" stroke="#111" stroke-width="1.7"/>
<circle cx="116.40" cy="500.38" r="2.09" fill="#111"/>
<circle cx="116.40" cy="509.05" r="2.09" fill="#111"/>
<circle cx="116.40" cy="530.74" r="2.09" fill="#111"/>
<line x1="109.40" y1="509.05" x2="123.40" y2="509.05" stroke="#111" stroke-width="1.7"/>
<path d="M137.10,452.50 L139.30,454.70 L137.10,456.90 L134.90,454.70 Z" fill="#111"/>
<path d="M137.10,454.80 L139.30,457.00 L137.10,459.20 L134.90,457.00 Z" fill="#111"/>
<path d="M137.10,470.62 L139.30,472.82 L137.10,475.02 L134.90,472.82 Z" fill="#111"/>
<path d="M137.10,475.59 L139.30,477.79 L137.10,479.99 L134.90,477.79 Z" fill="#111"/>
<path d="M133.10,488.35 L135.30,490.55 L133.10,492.75 L130.90,490.55 Z" fill="#111"/>
<path d="M135.10,491.03 L137.30,493.23 L135.10,495.43 L132.90,493.23 Z" fill="#111"/>
<path d="M138.10,491.03 L140.30,493.23 L138.10,495.43 L135.90,493.23 Z" fill="#111"/>
<path d="M140.60,489.88 L142.80,492.08 L140.60,494.28 L138.40,492.08 Z" fill="#111"/>
<path d="M136.10,490.52 L138.30,492.72 L136.10,494.92 L133.90,492.72 Z" fill="#111"/>
<path d="M137.10,513.49 L139.30,515.69 L137.10,517.89 L134.90,515.69 Z" fill="#111"/>
<line x1="130.10" y1="491.45" x2="144.10" y2="491.45" stroke="#111" stroke-width="1.7"/>
<path d="M153.80,463.98 L156.00,467.94 L151.60,467.94 Z" fill="#111"/>
<path d="M157.80,465.64 L160.00,469.60 L155.60,469.60 Z" fill="#111"/>
<path d="M161.80,463.98 L164.00,467.94 L159.60,467.94 Z" fill="#111"/>
<path d="M157.80,502.64 L160.00,506.60 L155.60,506.60 Z" fill="#111"/>
<path d="M157.80,514.12 L160.00,518.08 L155.60,518.08 Z" fill="#111"/>
<line x1="150.80" y1="484.81" x2="164.80" y2="484.81" stroke="#111" stroke-width="1.7"/>
<circle cx="178.50" cy="347.92" r="2.09" fill="#111"/>
<circle cx="178.50" cy="406.60" r="2.09" fill="#111"/>
<circle cx="178.50" cy="427.66" r="2.09" fill="#111"/>
<circle cx="178.50" cy="443.09" r="2.09" fill="#111"/>
<circle cx="178.50" cy="451.90" r="2.09" fill="#111"/>
<circle cx="178.50" cy="467.46" r="2.09" fill="#111"/>
<circle cx="178.50" cy="483.54" r="2.09" fill="#111"/>
<circle cx="178.50" cy="499.10" r="2.09" fill="#111"/>
<circle cx="178.50" cy="506.75" r="2.09" fill="#111"/>
<circle cx="178.50" cy="515.69" r="2.09" fill="#111"/>
<circle cx="178.50" cy="524.11" r="2.09" fill="#111"/>
<line x1="171.50" y1="484.43" x2="185.50" y2="484.43" stroke="#111" stroke-width="1.7"/>
<path d="M197.20,465.71 L199.40,461.75 L195.00,461.75 Z" fill="#111"/>
<path d="M201.20,465.71 L203.40,461.75 L199.00,461.75 Z" fill="#111"/>
<path d="M199.20,479.99 L201.40,476.03 L197.00,476.03 Z" fill="#111"/>
<path d="M197.20,483.95 L199.40,479.99 L195.00,479.99 Z" fill="#111"/>
<path d="M201.20,483.95 L203.40,479.99 L199.00,479.99 Z" fill="#111"/>
<path d="M199.20,490.71 L201.40,486.75 L197.00,486.75 Z" fill="#111"/>
<path d="M199.20,501.30 L201.40,497.34 L197.00,497.34 Z" fill="#111"/>
<path d="M199.20,505.13 L201.40,501.17 L197.00,501.17 Z" fill="#111"/>
<line x1="192.20" y1="481.75" x2="206.20" y2="481.75" stroke="#111" stroke-width="1.7"/>
<path d="M219.90,454.10 L222.10,450.14 L217.70,450.14 Z" fill="#111"/>
<path d="M219.90,464.56 L222.10,460.60 L217.70,460.60 Z" fill="#111"/>
<path d="M219.90,474.25 L222.10,470.29 L217.70,470.29 Z" fill="#111"/>
<path d="M219.90,483.18 L222.10,479.22 L217.70,479.22 Z" fill="#111"/>
<path d="M219.90,493.52 L222.10,489.56 L217.70,489.56 Z" fill="#111"/>
<line x1="212.90" y1="472.05" x2="226.90" y2="472.05" stroke="#111" stroke-width="1.7"/>
<circle cx="240.60" cy="444.24" r="2.09" fill="#111"/>
<circle cx="240.60" cy="461.72" r="2.09" fill="#111"/>
<circle cx="240.60" cy="467.46" r="2.09" fill="#111"/>
<circle cx="240.60" cy="475.75" r="2.09" fill="#111"/>
<circle cx="240.60" cy="486.72" r="2.09" fill="#111"/>
<line x1="233.60" y1="471.29" x2="247.60" y2="471.29" stroke="#111" stroke-width="1.7"/>
<circle cx="261.30" cy="436.97" r="2.09" fill="#111"/>
<circle cx="258.80" cy="447.43" r="2.09" fill="#111"/>
<circle cx="263.80" cy="446.15" r="2.09" fill="#111"/>
<circle cx="261.30" cy="471.03" r="2.09" fill="#111"/>
<circle cx="261.30" cy="484.81" r="2.09" fill="#111"/>
<circle cx="261.30" cy="497.82" r="2.09" fill="#111"/>
<circle cx="261.30" cy="502.16" r="2.09" fill="#111"/>
<line x1="254.30" y1="471.03" x2="268.30" y2="471.03" stroke="#111" stroke-width="1.7"/>
<circle cx="282.00" cy="423.83" r="2.09" fill="#111"/>
<circle cx="282.00" cy="439.14" r="2.09" fill="#111"/>
<circle cx="282.00" cy="443.86" r="2.09" fill="#111"/>
<circle cx="282.00" cy="463.76" r="2.09" fill="#111"/>
<circle cx="282.00" cy="481.37" r="2.09" fill="#111"/>
<circle cx="282.00" cy="486.60" r="2.09" fill="#111"/>
<line x1="275.00" y1="457.13" x2="289.00" y2="457.13" stroke="#111" stroke-width="1.7"/>
<circle cx="302.70" cy="379.69" r="2.09" fill="#111"/>
<circle cx="302.70" cy="429.31" r="2.09" fill="#111"/>
<circle cx="300.70" cy="449.09" r="2.09" fill="#111"/>
<circle cx="304.70" cy="451.51" r="2.09" fill="#111"/>
<circle cx="302.70" cy="455.98" r="2.09" fill="#111"/>
<circle cx="302.70" cy="475.12" r="2.09" fill="#111"/>
<circle cx="302.70" cy="488.26" r="2.09" fill="#111"/>
<circle cx="302.70" cy="491.83" r="2.09" fill="#111"/>
<line x1="295.70" y1="451.90" x2="309.70" y2="451.90" stroke="#111" stroke-width="1.7"/>
<rect x="321.75" y="345.12" width="3.30" height="3.30" fill="none" stroke="#111" stroke-width="1"/>
<rect x="321.75" y="410.95" width="3.30" height="3.30" fill="none" stroke="#111" stroke-width="1"/>
<rect x="321.75" y="426.52" width="3.30" height="3.30" fill="none" stroke="#111" stroke-width="1"/>
<rect x="321.75" y="432.51" width="3.30" height="3.30" fill="none" stroke="#111" stroke-width="1"/>
<rect x="319.75" y="449.86" width="3.30" height="3.30" fill="none" stroke="#111" stroke-width="1"/>
<rect x="323.75" y="455.09" width="3.30" height="3.30" fill="none" stroke="#111" stroke-width="1"/>
<rect x="319.75" y="474.10" width="3.30" height="3.30" fill="none" stroke="#111" stroke-width="1"/>
<rect x="323.75" y="476.91" width="3.30" height="3.30" fill="none" stroke="#111" stroke-width="1"/>
<line x1="316.40" y1="443.09" x2="330.40" y2="443.09" stroke="#111" stroke-width="1.7"/>
<circle cx="344.10" cy="364.76" r="1.20" fill="#111"/>
<circle cx="344.10" cy="380.71" r="1.20" fill="#111"/>
<circle cx="344.10" cy="416.17" r="1.20" fill="#111"/>
<circle cx="344.10" cy="430.08" r="1.20" fill="#111"/>
<circle cx="342.10" cy="443.86" r="1.20" fill="#111"/>
<circle cx="346.10" cy="447.43" r="1.20" fill="#111"/>
<circle cx="344.10" cy="457.64" r="1.20" fill="#111"/>
<line x1="337.10" y1="436.20" x2="351.10" y2="436.20" stroke="#111" stroke-width="1.7"/>
<circle cx="364.80" cy="381.34" r="0.85" fill="#111"/>
<circle cx="364.80" cy="441.18" r="0.85" fill="#111"/>
<line x1="357.80" y1="435.31" x2="371.80" y2="435.31" stroke="#111" stroke-width="1.7"/>
<circle cx="385.50" cy="400.61" r="2.09" fill="#111"/>
<circle cx="385.50" cy="420.26" r="2.09" fill="#111"/>
<circle cx="383.00" cy="430.59" r="2.09" fill="#111"/>
<circle cx="388.00" cy="430.59" r="2.09" fill="#111"/>
<line x1="378.50" y1="425.49" x2="392.50" y2="425.49" stroke="#111" stroke-width="1.7"/>
<circle cx="406.20" cy="388.36" r="1.76" fill="none" stroke="#111" stroke-width="1"/>
<circle cx="406.20" cy="398.69" r="1.76" fill="none" stroke="#111" stroke-width="1"/>
<circle cx="406.20" cy="422.42" r="1.76" fill="none" stroke="#111" stroke-width="1"/>
<circle cx="404.20" cy="428.17" r="1.76" fill="none" stroke="#111" stroke-width="1"/>
<circle cx="408.20" cy="428.17" r="1.76" fill="none" stroke="#111" stroke-width="1"/>
<line x1="399.20" y1="422.42" x2="413.20" y2="422.42" stroke="#111" stroke-width="1.7"/>
<path d="M426.90,355.29 L429.10,359.25 L424.70,359.25 Z" fill="#111"/>
<path d="M426.90,365.49 L429.10,369.45 L424.70,369.45 Z" fill="#111"/>
<path d="M426.90,408.87 L429.10,412.83 L424.70,412.83 Z" fill="#111"/>
<path d="M424.40,423.92 L426.60,427.88 L422.20,427.88 Z" fill="#111"/>
<path d="M429.40,423.92 L431.60,427.88 L427.20,427.88 Z" fill="#111"/>
<line x1="419.90" y1="417.58" x2="433.90" y2="417.58" stroke="#111" stroke-width="1.7"/>
<rect x="445.73" y="381.90" width="3.74" height="3.74" fill="#111"/>
<rect x="445.73" y="396.57" width="3.74" height="3.74" fill="#111"/>
<rect x="445.73" y="415.07" width="3.74" height="3.74" fill="#111"/>
<rect x="445.73" y="422.72" width="3.74" height="3.74" fill="#111"/>
<rect x="445.73" y="432.80" width="3.74" height="3.74" fill="#111"/>
<line x1="440.60" y1="416.94" x2="454.60" y2="416.94" stroke="#111" stroke-width="1.7"/>
<circle cx="468.30" cy="294.97" r="0.85" fill="#111"/>
<circle cx="468.30" cy="309.77" r="0.85" fill="#111"/>
<circle cx="468.30" cy="378.28" r="0.85" fill="#111"/>
<circle cx="468.30" cy="383.39" r="0.85" fill="#111"/>
<circle cx="468.30" cy="403.80" r="0.85" fill="#111"/>
<circle cx="468.30" cy="412.35" r="0.85" fill="#111"/>
<circle cx="468.30" cy="416.94" r="0.85" fill="#111"/>
<circle cx="468.30" cy="423.06" r="0.85" fill="#111"/>
<line x1="461.30" y1="397.29" x2="475.30" y2="397.29" stroke="#111" stroke-width="1.7"/>
<circle cx="489.00" cy="377.52" r="2.09" fill="#111"/>
<circle cx="489.00" cy="411.07" r="2.09" fill="#111"/>
<line x1="482.00" y1="390.27" x2="496.00" y2="390.27" stroke="#111" stroke-width="1.7"/>
<circle cx="509.70" cy="359.66" r="2.09" fill="#111"/>
<circle cx="509.70" cy="365.40" r="2.09" fill="#111"/>
<circle cx="509.70" cy="413.49" r="2.09" fill="#111"/>
<line x1="502.70" y1="365.40" x2="516.70" y2="365.40" stroke="#111" stroke-width="1.7"/>
<line x1="61.5" y1="690.4" x2="61.5" y2="946.6" stroke="#111" stroke-width="1.6"/>
<line x1="58.3" y1="945.8" x2="501" y2="945.8" stroke="#111" stroke-width="1.6"/>
<text x="57.3" y="949.40" font-size="10.3" text-anchor="end" fill="#1e1e1e" stroke="#1e1e1e" stroke-width="0.16">0</text>
<line x1="57.3" y1="913.97" x2="61.5" y2="913.97" stroke="#111" stroke-width="1.3"/>
<text x="57.3" y="917.57" font-size="10.3" text-anchor="end" fill="#1e1e1e" stroke="#1e1e1e" stroke-width="0.16">25</text>
<line x1="57.3" y1="882.15" x2="61.5" y2="882.15" stroke="#111" stroke-width="1.3"/>
<text x="57.3" y="885.75" font-size="10.3" text-anchor="end" fill="#1e1e1e" stroke="#1e1e1e" stroke-width="0.16">50</text>
<line x1="57.3" y1="850.32" x2="61.5" y2="850.32" stroke="#111" stroke-width="1.3"/>
<text x="57.3" y="853.92" font-size="10.3" text-anchor="end" fill="#1e1e1e" stroke="#1e1e1e" stroke-width="0.16">75</text>
<line x1="57.3" y1="818.50" x2="61.5" y2="818.50" stroke="#111" stroke-width="1.3"/>
<text x="57.3" y="822.10" font-size="10.3" text-anchor="end" fill="#1e1e1e" stroke="#1e1e1e" stroke-width="0.16">100</text>
<line x1="57.3" y1="786.67" x2="61.5" y2="786.67" stroke="#111" stroke-width="1.3"/>
<text x="57.3" y="790.27" font-size="10.3" text-anchor="end" fill="#1e1e1e" stroke="#1e1e1e" stroke-width="0.16">125</text>
<line x1="57.3" y1="754.85" x2="61.5" y2="754.85" stroke="#111" stroke-width="1.3"/>
<text x="57.3" y="758.45" font-size="10.3" text-anchor="end" fill="#1e1e1e" stroke="#1e1e1e" stroke-width="0.16">150</text>
<line x1="57.3" y1="723.02" x2="61.5" y2="723.02" stroke="#111" stroke-width="1.3"/>
<text x="57.3" y="726.62" font-size="10.3" text-anchor="end" fill="#1e1e1e" stroke="#1e1e1e" stroke-width="0.16">175</text>
<line x1="57.3" y1="691.20" x2="61.5" y2="691.20" stroke="#111" stroke-width="1.3"/>
<text x="57.3" y="694.80" font-size="10.3" text-anchor="end" fill="#1e1e1e" stroke="#1e1e1e" stroke-width="0.16">200</text>
<line x1="62.3" y1="882.15" x2="501" y2="882.15" stroke="#38389a" stroke-width="0.95"/>
<text transform="translate(30.8,821.3) rotate(-90)" font-size="13" text-anchor="middle" textLength="146" lengthAdjust="spacingAndGlyphs" fill="#1e1e1e" stroke="#1e1e1e" stroke-width="0.16">M-spike levels (% of d0)</text>
<text x="151.7" y="682.3" font-size="12" textLength="231" lengthAdjust="spacingAndGlyphs" fill="#1e1e1e" stroke="#1e1e1e" stroke-width="0.16">Drugs whose clinical activity is unknown</text>
<text x="128.6" y="749.5" font-size="12.8" textLength="51" lengthAdjust="spacingAndGlyphs" fill="#1e1e1e" stroke="#1e1e1e" stroke-width="0.16">p &lt; 0.05</text>
<path d="M68.5,760.3 L68.5,756 L224.9,756 L224.9,760.3" fill="none" stroke="#111" stroke-width="2"/>
<line x1="73.75" y1="946.2" x2="73.75" y2="950" stroke="#111" stroke-width="1.2"/>
<text transform="translate(76.55,958.6) rotate(-45)" font-size="12" text-anchor="end" fill="#222" stroke="#222" stroke-width="0.16">J1</text>
<line x1="98.13" y1="946.2" x2="98.13" y2="950" stroke="#111" stroke-width="1.2"/>
<text transform="translate(100.93,958.6) rotate(-45)" font-size="12" text-anchor="end" fill="#222" stroke="#222" stroke-width="0.16">JQ1</text>
<line x1="122.51" y1="946.2" x2="122.51" y2="950" stroke="#111" stroke-width="1.2"/>
<text transform="translate(125.31,958.6) rotate(-45)" font-size="12" text-anchor="end" fill="#222" stroke="#222" stroke-width="0.16">PR-047</text>
<line x1="146.89" y1="946.2" x2="146.89" y2="950" stroke="#111" stroke-width="1.2"/>
<text transform="translate(149.69,958.6) rotate(-45)" font-size="12" text-anchor="end" fill="#222" stroke="#222" stroke-width="0.16">TH-302</text>
<line x1="171.27" y1="946.2" x2="171.27" y2="950" stroke="#111" stroke-width="1.2"/>
<text transform="translate(174.07,958.6) rotate(-45)" font-size="12" text-anchor="end" fill="#222" stroke="#222" stroke-width="0.16">SNS-032</text>
<line x1="195.65" y1="946.2" x2="195.65" y2="950" stroke="#111" stroke-width="1.2"/>
<text transform="translate(198.45,958.6) rotate(-45)" font-size="12" text-anchor="end" fill="#222" stroke="#222" stroke-width="0.16">paclitaxel p-bound</text>
<line x1="220.03" y1="946.2" x2="220.03" y2="950" stroke="#111" stroke-width="1.2"/>
<text transform="translate(222.83,958.6) rotate(-45)" font-size="12" text-anchor="end" fill="#222" stroke="#222" stroke-width="0.16">obatoclax</text>
<line x1="244.41" y1="946.2" x2="244.41" y2="950" stroke="#111" stroke-width="1.2"/>
<text transform="translate(247.21,958.6) rotate(-45)" font-size="12" text-anchor="end" fill="#222" stroke="#222" stroke-width="0.16">ciclopirox olamine</text>
<line x1="268.79" y1="946.2" x2="268.79" y2="950" stroke="#111" stroke-width="1.2"/>
<text transform="translate(271.59,958.6) rotate(-45)" font-size="12" text-anchor="end" fill="#222" stroke="#222" stroke-width="0.16">purvalanol</text>
<line x1="293.17" y1="946.2" x2="293.17" y2="950" stroke="#111" stroke-width="1.2"/>
<text transform="translate(295.97,958.6) rotate(-45)" font-size="12" text-anchor="end" fill="#222" stroke="#222" stroke-width="0.16">AUY-922</text>
<line x1="317.55" y1="946.2" x2="317.55" y2="950" stroke="#111" stroke-width="1.2"/>
<text transform="translate(320.35,958.6) rotate(-45)" font-size="12" text-anchor="end" fill="#222" stroke="#222" stroke-width="0.16">g-Secretase XII in.</text>
<line x1="341.93" y1="946.2" x2="341.93" y2="950" stroke="#111" stroke-width="1.2"/>
<text transform="translate(344.73,958.6) rotate(-45)" font-size="12" text-anchor="end" fill="#222" stroke="#222" stroke-width="0.16">CTLA4-Ig</text>
<line x1="366.31" y1="946.2" x2="366.31" y2="950" stroke="#111" stroke-width="1.2"/>
<text transform="translate(369.11,958.6) rotate(-45)" font-size="12" text-anchor="end" fill="#222" stroke="#222" stroke-width="0.16">TAK-901</text>
<line x1="390.69" y1="946.2" x2="390.69" y2="950" stroke="#111" stroke-width="1.2"/>
<text transform="translate(393.49,958.6) rotate(-45)" font-size="12" text-anchor="end" fill="#222" stroke="#222" stroke-width="0.16">BAFFR-Ig</text>
<line x1="415.07" y1="946.2" x2="415.07" y2="950" stroke="#111" stroke-width="1.2"/>
<text transform="translate(417.87,958.6) rotate(-45)" font-size="12" text-anchor="end" fill="#222" stroke="#222" stroke-width="0.16">vehicle</text>
<line x1="439.45" y1="946.2" x2="439.45" y2="950" stroke="#111" stroke-width="1.2"/>
<text transform="translate(442.25,958.6) rotate(-45)" font-size="12" text-anchor="end" fill="#222" stroke="#222" stroke-width="0.16">GDC-0941</text>
<line x1="463.83" y1="946.2" x2="463.83" y2="950" stroke="#111" stroke-width="1.2"/>
<text transform="translate(466.63,958.6) rotate(-45)" font-size="12" text-anchor="end" fill="#222" stroke="#222" stroke-width="0.16">BEZ-235</text>
<line x1="488.21" y1="946.2" x2="488.21" y2="950" stroke="#111" stroke-width="1.2"/>
<text transform="translate(491.01,958.6) rotate(-45)" font-size="12" text-anchor="end" fill="#222" stroke="#222" stroke-width="0.16">decitabine</text>
<circle cx="73.75" cy="853.25" r="2.09" fill="#111"/>
<circle cx="73.75" cy="871.20" r="2.09" fill="#111"/>
<circle cx="73.75" cy="883.80" r="2.09" fill="#111"/>
<circle cx="73.75" cy="912.70" r="2.09" fill="#111"/>
<circle cx="73.75" cy="919.07" r="2.09" fill="#111"/>
<circle cx="73.75" cy="930.01" r="2.09" fill="#111"/>
<line x1="66.25" y1="898.06" x2="81.25" y2="898.06" stroke="#111" stroke-width="1.7"/>
<circle cx="98.13" cy="863.44" r="2.09" fill="#111"/>
<circle cx="96.13" cy="871.20" r="2.09" fill="#111"/>
<circle cx="100.13" cy="871.20" r="2.09" fill="#111"/>
<circle cx="98.13" cy="884.70" r="2.09" fill="#111"/>
<circle cx="95.13" cy="887.62" r="2.09" fill="#111"/>
<circle cx="98.13" cy="888.51" r="2.09" fill="#111"/>
<circle cx="101.13" cy="887.62" r="2.09" fill="#111"/>
<circle cx="98.13" cy="924.16" r="2.09" fill="#111"/>
<line x1="90.63" y1="884.70" x2="105.63" y2="884.70" stroke="#111" stroke-width="1.7"/>
<circle cx="122.51" cy="808.32" r="2.09" fill="#111"/>
<circle cx="122.51" cy="827.41" r="2.09" fill="#111"/>
<circle cx="122.51" cy="837.59" r="2.09" fill="#111"/>
<circle cx="122.51" cy="843.96" r="2.09" fill="#111"/>
<circle cx="120.51" cy="859.24" r="2.09" fill="#111"/>
<circle cx="124.51" cy="859.24" r="2.09" fill="#111"/>
<circle cx="122.51" cy="866.87" r="2.09" fill="#111"/>
<circle cx="122.51" cy="875.78" r="2.09" fill="#111"/>
<circle cx="122.51" cy="879.60" r="2.09" fill="#111"/>
<circle cx="120.51" cy="888.51" r="2.09" fill="#111"/>
<circle cx="124.51" cy="888.51" r="2.09" fill="#111"/>
<circle cx="118.51" cy="892.33" r="2.09" fill="#111"/>
<circle cx="122.51" cy="893.61" r="2.09" fill="#111"/>
<circle cx="126.51" cy="892.33" r="2.09" fill="#111"/>
<circle cx="120.51" cy="897.43" r="2.09" fill="#111"/>
<circle cx="124.51" cy="897.43" r="2.09" fill="#111"/>
<line x1="115.01" y1="873.24" x2="130.01" y2="873.24" stroke="#111" stroke-width="1.7"/>
<circle cx="144.89" cy="864.33" r="2.09" fill="#111"/>
<circle cx="148.89" cy="866.87" r="2.09" fill="#111"/>
<circle cx="143.89" cy="868.15" r="2.09" fill="#111"/>
<circle cx="149.89" cy="869.42" r="2.09" fill="#111"/>
<circle cx="146.89" cy="871.97" r="2.09" fill="#111"/>
<circle cx="144.89" cy="884.70" r="2.09" fill="#111"/>
<circle cx="148.89" cy="884.70" r="2.09" fill="#111"/>
<circle cx="146.89" cy="924.16" r="2.09" fill="#111"/>
<line x1="139.39" y1="869.42" x2="154.39" y2="869.42" stroke="#111" stroke-width="1.7"/>
<circle cx="171.27" cy="786.67" r="2.09" fill="#111"/>
<circle cx="171.27" cy="850.32" r="2.09" fill="#111"/>
<circle cx="171.27" cy="852.87" r="2.09" fill="#111"/>
<circle cx="169.27" cy="859.24" r="2.09" fill="#111"/>
<circle cx="173.27" cy="861.78" r="2.09" fill="#111"/>
<circle cx="171.27" cy="863.05" r="2.09" fill="#111"/>
<circle cx="171.27" cy="866.87" r="2.09" fill="#111"/>
<circle cx="171.27" cy="869.42" r="2.09" fill="#111"/>
<circle cx="171.27" cy="894.88" r="2.09" fill="#111"/>
<line x1="163.77" y1="865.60" x2="178.77" y2="865.60" stroke="#111" stroke-width="1.7"/>
<circle cx="195.65" cy="780.31" r="2.09" fill="#111"/>
<circle cx="195.65" cy="831.23" r="2.09" fill="#111"/>
<circle cx="195.65" cy="833.78" r="2.09" fill="#111"/>
<circle cx="195.65" cy="843.96" r="2.09" fill="#111"/>
<circle cx="195.65" cy="852.87" r="2.09" fill="#111"/>
<circle cx="195.65" cy="860.51" r="2.09" fill="#111"/>
<circle cx="195.65" cy="866.87" r="2.09" fill="#111"/>
<circle cx="195.65" cy="873.24" r="2.09" fill="#111"/>
<circle cx="195.65" cy="878.33" r="2.09" fill="#111"/>
<circle cx="195.65" cy="888.51" r="2.09" fill="#111"/>
<line x1="188.15" y1="859.24" x2="203.15" y2="859.24" stroke="#111" stroke-width="1.7"/>
<circle cx="220.03" cy="800.68" r="0.90" fill="#111"/>
<circle cx="220.03" cy="821.05" r="0.90" fill="#111"/>
<circle cx="220.03" cy="833.78" r="0.90" fill="#111"/>
<circle cx="220.03" cy="882.15" r="0.90" fill="#111"/>
<line x1="212.53" y1="843.96" x2="227.53" y2="843.96" stroke="#111" stroke-width="1.7"/>
<circle cx="244.41" cy="810.10" r="2.09" fill="#111"/>
<circle cx="242.41" cy="829.45" r="2.09" fill="#111"/>
<circle cx="246.41" cy="828.68" r="2.09" fill="#111"/>
<line x1="236.91" y1="827.79" x2="251.91" y2="827.79" stroke="#111" stroke-width="1.7"/>
<circle cx="268.79" cy="795.59" r="0.90" fill="#111"/>
<circle cx="268.79" cy="800.68" r="0.90" fill="#111"/>
<circle cx="268.79" cy="814.68" r="0.90" fill="#111"/>
<circle cx="266.79" cy="832.50" r="0.90" fill="#111"/>
<circle cx="270.79" cy="836.32" r="0.90" fill="#111"/>
<circle cx="268.79" cy="852.87" r="0.90" fill="#111"/>
<line x1="261.29" y1="822.96" x2="276.29" y2="822.96" stroke="#111" stroke-width="1.7"/>
<circle cx="293.17" cy="773.05" r="0.90" fill="#111"/>
<circle cx="291.17" cy="802.59" r="0.90" fill="#111"/>
<circle cx="295.17" cy="806.28" r="0.90" fill="#111"/>
<circle cx="293.17" cy="825.12" r="0.90" fill="#111"/>
<circle cx="293.17" cy="834.29" r="0.90" fill="#111"/>
<circle cx="293.17" cy="863.95" r="0.90" fill="#111"/>
<line x1="285.67" y1="824.10" x2="300.67" y2="824.10" stroke="#111" stroke-width="1.7"/>
<rect x="315.68" y="803.01" width="3.74" height="3.74" fill="#111"/>
<rect x="313.68" y="811.54" width="3.74" height="3.74" fill="#111"/>
<rect x="317.68" y="815.36" width="3.74" height="3.74" fill="#111"/>
<rect x="313.68" y="820.58" width="3.74" height="3.74" fill="#111"/>
<rect x="317.68" y="825.92" width="3.74" height="3.74" fill="#111"/>
<rect x="315.68" y="833.94" width="3.74" height="3.74" fill="#111"/>
<line x1="310.05" y1="821.30" x2="325.05" y2="821.30" stroke="#111" stroke-width="1.7"/>
<rect x="342.28" y="807.30" width="3.30" height="3.30" fill="none" stroke="#111" stroke-width="1"/>
<rect x="338.28" y="810.49" width="3.30" height="3.30" fill="none" stroke="#111" stroke-width="1"/>
<rect x="340.28" y="818.12" width="3.30" height="3.30" fill="none" stroke="#111" stroke-width="1"/>
<rect x="340.28" y="824.49" width="3.30" height="3.30" fill="none" stroke="#111" stroke-width="1"/>
<line x1="334.43" y1="815.95" x2="349.43" y2="815.95" stroke="#111" stroke-width="1.7"/>
<path d="M366.31,741.26 L368.51,737.30 L364.11,737.30 Z" fill="#111"/>
<path d="M366.31,799.44 L368.51,795.48 L364.11,795.48 Z" fill="#111"/>
<path d="M366.31,819.43 L368.51,815.47 L364.11,815.47 Z" fill="#111"/>
<path d="M366.31,828.34 L368.51,824.38 L364.11,824.38 Z" fill="#111"/>
<line x1="358.81" y1="807.93" x2="373.81" y2="807.93" stroke="#111" stroke-width="1.7"/>
<circle cx="390.69" cy="779.42" r="1.76" fill="none" stroke="#111" stroke-width="1"/>
<circle cx="390.69" cy="817.23" r="1.76" fill="none" stroke="#111" stroke-width="1"/>
<circle cx="390.69" cy="804.75" r="1.76" fill="none" stroke="#111" stroke-width="1"/>
<line x1="383.19" y1="804.75" x2="398.19" y2="804.75" stroke="#111" stroke-width="1.7"/>
<circle cx="415.07" cy="702.66" r="0.90" fill="#111"/>
<circle cx="415.07" cy="717.93" r="0.90" fill="#111"/>
<circle cx="415.07" cy="784.77" r="0.90" fill="#111"/>
<circle cx="415.07" cy="790.49" r="0.90" fill="#111"/>
<circle cx="415.07" cy="807.93" r="0.90" fill="#111"/>
<circle cx="415.07" cy="814.68" r="0.90" fill="#111"/>
<circle cx="415.07" cy="819.77" r="0.90" fill="#111"/>
<circle cx="415.07" cy="825.12" r="0.90" fill="#111"/>
<circle cx="415.07" cy="830.59" r="0.90" fill="#111"/>
<line x1="407.57" y1="804.75" x2="422.57" y2="804.75" stroke="#111" stroke-width="1.7"/>
<circle cx="439.45" cy="770.38" r="2.09" fill="#111"/>
<circle cx="439.45" cy="776.87" r="2.09" fill="#111"/>
<circle cx="439.45" cy="783.24" r="2.09" fill="#111"/>
<circle cx="439.45" cy="799.40" r="2.09" fill="#111"/>
<circle cx="439.45" cy="813.41" r="2.09" fill="#111"/>
<circle cx="439.45" cy="824.10" r="2.09" fill="#111"/>
<circle cx="439.45" cy="834.79" r="2.09" fill="#111"/>
<line x1="431.95" y1="799.40" x2="446.95" y2="799.40" stroke="#111" stroke-width="1.7"/>
<rect x="460.68" y="716.28" width="3.30" height="3.30" fill="#111"/>
<rect x="463.68" y="716.28" width="3.30" height="3.30" fill="#111"/>
<rect x="462.18" y="740.47" width="3.30" height="3.30" fill="#111"/>
<rect x="462.18" y="752.56" width="3.30" height="3.30" fill="#111"/>
<rect x="462.18" y="800.94" width="3.30" height="3.30" fill="#111"/>
<rect x="462.18" y="807.30" width="3.30" height="3.30" fill="#111"/>
<rect x="462.18" y="815.58" width="3.30" height="3.30" fill="#111"/>
<rect x="462.18" y="823.47" width="3.30" height="3.30" fill="#111"/>
<line x1="456.33" y1="777.76" x2="471.33" y2="777.76" stroke="#111" stroke-width="1.7"/>
<circle cx="488.21" cy="748.48" r="2.09" fill="#111"/>
<circle cx="488.21" cy="767.07" r="2.09" fill="#111"/>
<circle cx="488.21" cy="778.40" r="2.09" fill="#111"/>
<circle cx="486.21" cy="820.79" r="2.09" fill="#111"/>
<circle cx="490.21" cy="820.79" r="2.09" fill="#111"/>
<line x1="480.71" y1="773.05" x2="495.71" y2="773.05" stroke="#111" stroke-width="1.7"/>
</svg></body></html>
